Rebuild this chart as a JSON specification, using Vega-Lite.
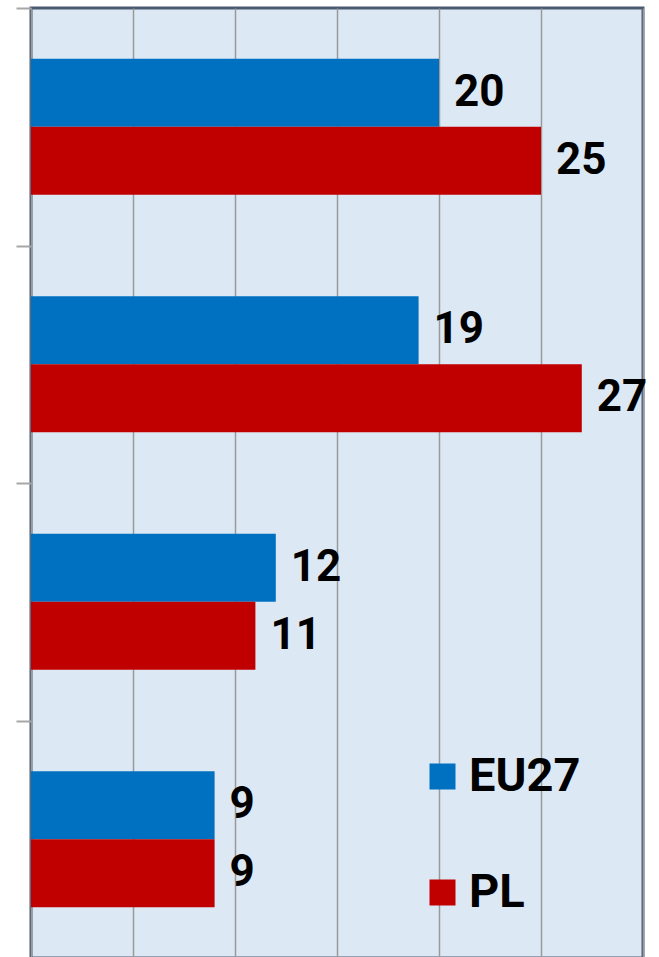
{
  "$schema": "https://vega.github.io/schema/vega-lite/v6.json",
  "width": 612,
  "height": 950,
  "autosize": {"type": "none"},
  "padding": {"left": 31, "top": 8, "right": 16, "bottom": 0},
  "background": "white",
  "data": {
    "values": [
      {"group": "1", "series": "EU27", "value": 20},
      {"group": "1", "series": "PL", "value": 25},
      {"group": "2", "series": "EU27", "value": 19},
      {"group": "2", "series": "PL", "value": 27},
      {"group": "3", "series": "EU27", "value": 12},
      {"group": "3", "series": "PL", "value": 11},
      {"group": "4", "series": "EU27", "value": 9},
      {"group": "4", "series": "PL", "value": 9}
    ]
  },
  "encoding": {
    "y": {
      "field": "group",
      "type": "nominal",
      "sort": ["1", "2", "3", "4"],
      "scale": {"paddingInner": 0, "paddingOuter": 0},
      "axis": {
        "title": null,
        "labels": false,
        "domain": false,
        "ticks": true,
        "tickBand": "extent",
        "tickSize": 15,
        "tickColor": "#a6a6a6",
        "tickWidth": 2,
        "grid": false
      }
    },
    "yOffset": {
      "field": "series",
      "type": "nominal",
      "sort": ["EU27", "PL"],
      "scale": {"paddingInner": 0, "paddingOuter": 0.746}
    },
    "x": {
      "field": "value",
      "type": "quantitative",
      "scale": {"domain": [0, 30], "nice": false, "zero": true},
      "axis": {
        "title": null,
        "labels": false,
        "ticks": false,
        "domain": false,
        "grid": true,
        "gridColor": "#9a9a9a",
        "gridWidth": 1.5,
        "values": [0, 5, 10, 15, 20, 25, 30]
      }
    }
  },
  "layer": [
    {
      "mark": {"type": "bar"},
      "encoding": {
        "color": {
          "field": "series",
          "type": "nominal",
          "sort": ["EU27", "PL"],
          "scale": {"domain": ["EU27", "PL"], "range": ["#0070c0", "#c00000"]},
          "legend": {
            "title": null,
            "orient": "none",
            "legendX": 388,
            "legendY": 745,
            "padding": 0,
            "symbolType": "square",
            "symbolSize": 676,
            "symbolStrokeWidth": 0,
            "labelFont": "Roboto",
            "labelFontSize": 47,
            "labelFontWeight": "bold",
            "labelColor": "#000000",
            "labelOffset": 3,
            "rowPadding": 68,
            "labelLimit": 400
          }
        }
      }
    },
    {
      "mark": {
        "type": "text",
        "align": "left",
        "baseline": "middle",
        "dx": 15,
        "font": "Roboto",
        "fontSize": 44,
        "fontWeight": "bold",
        "color": "#000000"
      },
      "encoding": {
        "text": {"field": "value", "type": "quantitative"}
      }
    }
  ],
  "config": {
    "view": {"fill": "#dde8f5", "stroke": "#4a5a72", "strokeWidth": 3}
  }
}
